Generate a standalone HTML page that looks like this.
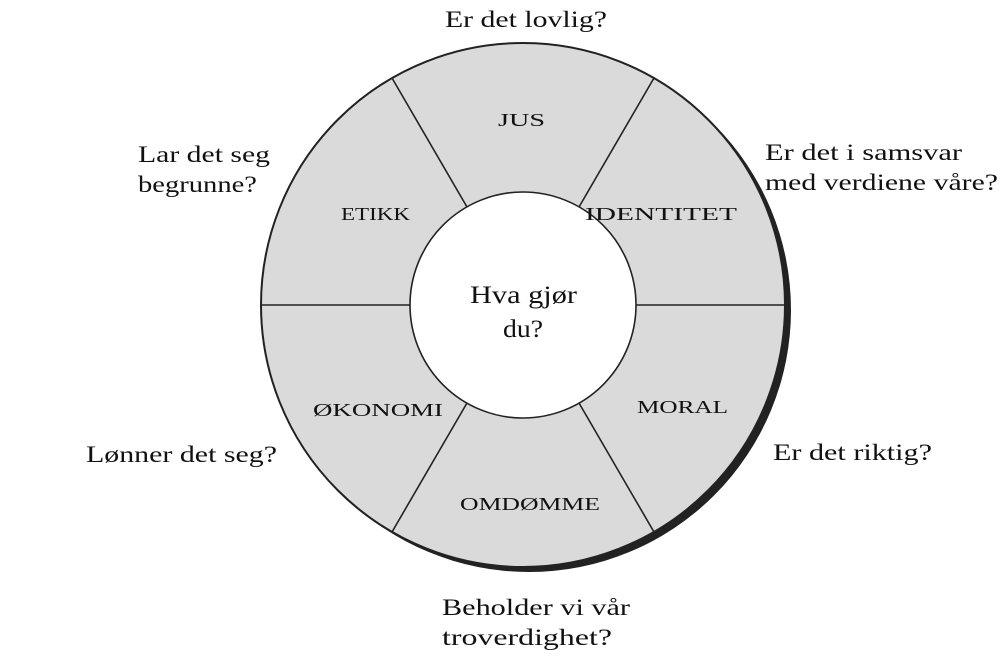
<!DOCTYPE html>
<html><head><meta charset="utf-8"><style>
html,body{margin:0;padding:0;background:#fff;}
svg{display:block;}
text{font-family:"Liberation Serif",serif;fill:#111;}
</style></head><body>
<svg width="1000" height="660" viewBox="0 0 1000 660">
<circle cx="529" cy="310" r="262" fill="#222"/>
<circle cx="523" cy="305" r="262" fill="#dadada" stroke="#222" stroke-width="2"/>
<g stroke="#222" stroke-width="1.6">
<line x1="261" y1="305" x2="410" y2="305"/>
<line x1="636" y1="305" x2="785" y2="305"/>
<line x1="392" y1="78" x2="467" y2="207"/>
<line x1="654" y1="78" x2="579" y2="207"/>
<line x1="392" y1="532" x2="467" y2="403"/>
<line x1="654" y1="532" x2="579" y2="403"/>
</g>
<circle cx="523" cy="305" r="113" fill="#fff" stroke="#222" stroke-width="1.6"/>
<g font-size="18" lengthAdjust="spacingAndGlyphs">
<text x="498" y="126" textLength="47" lengthAdjust="spacingAndGlyphs">JUS</text>
<text x="341" y="220" textLength="69" lengthAdjust="spacingAndGlyphs">ETIKK</text>
<text x="585" y="220" textLength="152" lengthAdjust="spacingAndGlyphs">IDENTITET</text>
<text x="313" y="416" textLength="130" lengthAdjust="spacingAndGlyphs">ØKONOMI</text>
<text x="637" y="413" textLength="91" lengthAdjust="spacingAndGlyphs">MORAL</text>
<text x="460" y="510" textLength="140" lengthAdjust="spacingAndGlyphs">OMDØMME</text>
</g>
<g font-size="25">
<text x="470" y="303" textLength="107" lengthAdjust="spacingAndGlyphs">Hva gjør</text>
<text x="503" y="337" textLength="40" lengthAdjust="spacingAndGlyphs">du?</text>
</g>
<g font-size="23">
<text x="445" y="27" textLength="162" lengthAdjust="spacingAndGlyphs">Er det lovlig?</text>
<text x="138" y="162" textLength="132" lengthAdjust="spacingAndGlyphs">Lar det seg</text>
<text x="138" y="192" textLength="119" lengthAdjust="spacingAndGlyphs">begrunne?</text>
<text x="765" y="160" textLength="197" lengthAdjust="spacingAndGlyphs">Er det i samsvar</text>
<text x="765" y="190" textLength="233" lengthAdjust="spacingAndGlyphs">med verdiene våre?</text>
<text x="86" y="462" textLength="191" lengthAdjust="spacingAndGlyphs">Lønner det seg?</text>
<text x="773" y="460" textLength="159" lengthAdjust="spacingAndGlyphs">Er det riktig?</text>
<text x="442" y="615" textLength="188" lengthAdjust="spacingAndGlyphs">Beholder vi vår</text>
<text x="442" y="645" textLength="170" lengthAdjust="spacingAndGlyphs">troverdighet?</text>
</g>
</svg>
</body></html>
